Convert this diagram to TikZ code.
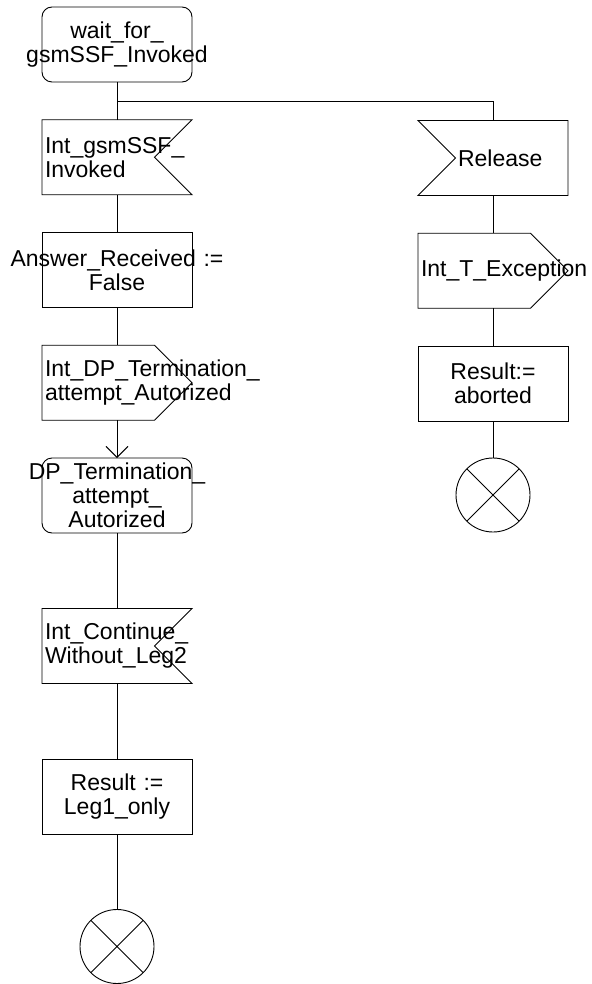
\documentclass[tikz,border=0pt]{standalone}
\usepackage{fontspec}
\setmainfont{Liberation Sans}
\usetikzlibrary{arrows.meta,positioning}
\hyphenpenalty=10000

\begin{document}
\begin{tikzpicture}[
node distance=37.75pt,
every node/.style={font=\fontsize{23}{24}\selectfont, line width=0.9pt, outer sep=0pt},
box/.style={rectangle, minimum width=150pt, minimum height=75pt, inner ysep=0pt},
sdlstate/.style={box, draw, rounded corners=10pt, text width=150pt, inner xsep=0pt, align=center},
sdltask/.style={box, draw, text width=150pt, inner xsep=0pt, align=center},
sdlin/.style={box, text width=144pt, inner xsep=3pt, align=left, append after command={\pgfextra{
  \draw[line width=0.9pt] (\tikzlastnode.north west) -- (\tikzlastnode.north east) -- ([xshift=-37.5pt]\tikzlastnode.east)
    -- (\tikzlastnode.south east) -- (\tikzlastnode.south west) -- cycle;}}},
sdlinw/.style={box, text width=144pt, inner xsep=3pt, align=left, append after command={\pgfextra{
  \draw[line width=0.9pt] (\tikzlastnode.north west) -- (\tikzlastnode.north east) -- (\tikzlastnode.south east)
    -- (\tikzlastnode.south west) -- ([xshift=37.5pt]\tikzlastnode.west) -- cycle;}}},
sdlout/.style={box, text width=144pt, inner xsep=3pt, align=left, append after command={\pgfextra{
  \draw[line width=0.9pt] (\tikzlastnode.north west) -- ([xshift=-37.5pt]\tikzlastnode.north east) -- (\tikzlastnode.east)
    -- ([xshift=-37.5pt]\tikzlastnode.south east) -- (\tikzlastnode.south west) -- cycle;}}},
sdlstop/.style={draw, circle, minimum size=74pt, inner sep=0pt, path picture={
  \draw (path picture bounding box.north west) -- (path picture bounding box.south east)
        (path picture bounding box.north east) -- (path picture bounding box.south west);}},
line/.style={line width=0.9pt},
arrow/.style={line, -{Straight Barb[length=11pt,width=22pt]}}
]
\useasboundingbox (0,0) rectangle (591pt,-984pt);

% left branch
\node[sdlstate] (wait) at (117pt,-44.5pt) {wait\_for\_\\\makebox[\linewidth]{gsmSSF\_Invoked}};
\node[sdlin, below=of wait] (invoked) {Int\_gsmSSF\_\\Invoked};
\node[sdltask, below=of invoked] (answer) {\makebox[\linewidth]{Answer\_Received :=}\\False};
\node[sdlout, below=of answer] (intdp) {Int\_DP\_Termination\_\\attempt\_Autorized};
\node[sdlstate, below=of intdp] (dpterm) {\makebox[\linewidth]{DP\_Termination\_}\\attempt\_\\Autorized};
\node[sdlin, below=75.5pt of dpterm] (contin) {Int\_Continue\_\\Without\_Leg2};
\node[sdltask, below=75.5pt of contin] (leg1) {Result :=\\Leg1\_only};
\node[sdlstop, below=75.5pt of leg1] (end1) {};

% right branch
\node[sdlinw] (release) at (493pt,-158pt) {\hspace*{37pt}Release};
\node[sdlout, below=of release] (except) {Int\_T\_Exception};
\node[sdltask, below=of except] (aborted) {Result:=\\aborted};
\node[sdlstop, below=37pt of aborted] (end2) {};

\coordinate[below=19.5pt of wait] (fork);

\draw[line] (wait) -- (invoked);
\draw[line] (fork) -| (release.north);
\draw[line] (invoked) -- (answer);
\draw[line] (answer) -- (intdp);
\draw[arrow] (intdp) -- (dpterm);
\draw[line] (dpterm) -- (contin);
\draw[line] (contin) -- (leg1);
\draw[line] (leg1) -- (end1);
\draw[line] (release) -- (except);
\draw[line] (except) -- (aborted);
\draw[line] (aborted) -- (end2);
\end{tikzpicture}
\end{document}
